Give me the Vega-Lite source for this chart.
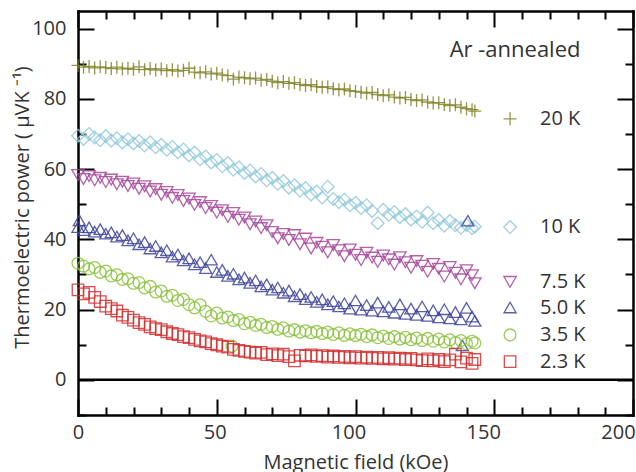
{
  "$schema": "https://vega.github.io/schema/vega-lite/v6.json",
  "width": 555,
  "height": 404,
  "autosize": "none",
  "padding": {"left": 78, "top": 11, "right": 3, "bottom": 57},
  "background": "white",
  "config": {
    "view": {"stroke": null},
    "font": "Open Sans",
    "axis": {
      "domainColor": "black", "domainWidth": 2.5, "domainCap": "square",
      "tickColor": "black", "tickWidth": 2, "grid": false,
      "labelFont": "Open Sans", "labelFontSize": 20, "labelColor": "#333333",
      "titleFont": "Open Sans", "titleFontSize": 20, "titleFontWeight": "normal", "titleColor": "#333333",
      "labelOverlap": false, "labelFlush": false, "labelBound": false
    }
  },
  "datasets": {
    "series": [
      {"T":"20 K","h":0,"v":89.5},{"T":"20 K","h":2,"v":89.0},{"T":"20 K","h":4,"v":89.2},{"T":"20 K","h":6,"v":88.8},{"T":"20 K","h":8,"v":89.1},{"T":"20 K","h":10,"v":88.9},{"T":"20 K","h":12,"v":88.6},{"T":"20 K","h":14,"v":89.0},{"T":"20 K","h":16,"v":88.5},{"T":"20 K","h":18,"v":88.7},{"T":"20 K","h":20,"v":88.4},{"T":"20 K","h":22,"v":89.1},{"T":"20 K","h":24,"v":88.3},{"T":"20 K","h":26,"v":88.6},{"T":"20 K","h":28,"v":88.2},{"T":"20 K","h":30,"v":88.5},{"T":"20 K","h":32,"v":88.0},{"T":"20 K","h":34,"v":88.3},{"T":"20 K","h":36,"v":87.9},{"T":"20 K","h":38,"v":88.1},{"T":"20 K","h":40,"v":88.7},{"T":"20 K","h":42,"v":87.6},{"T":"20 K","h":44,"v":87.4},{"T":"20 K","h":46,"v":87.7},{"T":"20 K","h":48,"v":87.1},{"T":"20 K","h":50,"v":87.3},{"T":"20 K","h":52,"v":86.8},{"T":"20 K","h":54,"v":86.6},{"T":"20 K","h":56,"v":85.6},{"T":"20 K","h":58,"v":86.2},{"T":"20 K","h":60,"v":86.0},{"T":"20 K","h":62,"v":85.7},{"T":"20 K","h":64,"v":85.9},{"T":"20 K","h":66,"v":85.3},{"T":"20 K","h":68,"v":85.5},{"T":"20 K","h":70,"v":85.0},{"T":"20 K","h":72,"v":84.6},{"T":"20 K","h":74,"v":84.9},{"T":"20 K","h":76,"v":84.4},{"T":"20 K","h":78,"v":84.6},{"T":"20 K","h":80,"v":84.1},{"T":"20 K","h":82,"v":83.8},{"T":"20 K","h":84,"v":84.0},{"T":"20 K","h":86,"v":83.5},{"T":"20 K","h":88,"v":83.3},{"T":"20 K","h":90,"v":83.4},{"T":"20 K","h":92,"v":82.9},{"T":"20 K","h":94,"v":82.6},{"T":"20 K","h":96,"v":82.8},{"T":"20 K","h":98,"v":82.3},{"T":"20 K","h":100,"v":82.1},{"T":"20 K","h":102,"v":81.9},{"T":"20 K","h":104,"v":81.6},{"T":"20 K","h":106,"v":81.8},{"T":"20 K","h":108,"v":81.2},{"T":"20 K","h":110,"v":80.9},{"T":"20 K","h":112,"v":81.1},{"T":"20 K","h":114,"v":80.5},{"T":"20 K","h":116,"v":80.2},{"T":"20 K","h":118,"v":80.4},{"T":"20 K","h":120,"v":79.8},{"T":"20 K","h":122,"v":79.5},{"T":"20 K","h":124,"v":79.7},{"T":"20 K","h":126,"v":79.1},{"T":"20 K","h":128,"v":78.8},{"T":"20 K","h":130,"v":78.9},{"T":"20 K","h":132,"v":78.4},{"T":"20 K","h":134,"v":78.1},{"T":"20 K","h":136,"v":78.3},{"T":"20 K","h":138,"v":77.6},{"T":"20 K","h":140,"v":77.2},{"T":"20 K","h":142,"v":76.9},{"T":"20 K","h":143,"v":76.5},
      {"T":"10 K","h":0,"v":69.5},{"T":"10 K","h":2,"v":68.6},{"T":"10 K","h":4,"v":70.0},{"T":"10 K","h":6,"v":69.0},{"T":"10 K","h":8,"v":68.2},{"T":"10 K","h":10,"v":69.4},{"T":"10 K","h":12,"v":68.1},{"T":"10 K","h":14,"v":68.8},{"T":"10 K","h":16,"v":67.6},{"T":"10 K","h":18,"v":68.5},{"T":"10 K","h":20,"v":67.3},{"T":"10 K","h":22,"v":68.0},{"T":"10 K","h":24,"v":66.7},{"T":"10 K","h":26,"v":67.6},{"T":"10 K","h":28,"v":66.2},{"T":"10 K","h":30,"v":66.9},{"T":"10 K","h":32,"v":65.5},{"T":"10 K","h":34,"v":66.3},{"T":"10 K","h":36,"v":64.8},{"T":"10 K","h":38,"v":65.6},{"T":"10 K","h":40,"v":63.9},{"T":"10 K","h":42,"v":64.7},{"T":"10 K","h":44,"v":62.8},{"T":"10 K","h":46,"v":63.6},{"T":"10 K","h":48,"v":61.9},{"T":"10 K","h":50,"v":62.6},{"T":"10 K","h":52,"v":60.8},{"T":"10 K","h":54,"v":61.7},{"T":"10 K","h":56,"v":59.8},{"T":"10 K","h":58,"v":60.5},{"T":"10 K","h":60,"v":58.9},{"T":"10 K","h":62,"v":59.6},{"T":"10 K","h":64,"v":57.9},{"T":"10 K","h":66,"v":58.6},{"T":"10 K","h":68,"v":56.8},{"T":"10 K","h":70,"v":57.5},{"T":"10 K","h":72,"v":55.8},{"T":"10 K","h":74,"v":56.6},{"T":"10 K","h":76,"v":54.7},{"T":"10 K","h":78,"v":55.4},{"T":"10 K","h":80,"v":53.9},{"T":"10 K","h":82,"v":54.6},{"T":"10 K","h":84,"v":52.8},{"T":"10 K","h":86,"v":53.6},{"T":"10 K","h":88,"v":51.9},{"T":"10 K","h":90,"v":55.0},{"T":"10 K","h":92,"v":51.5},{"T":"10 K","h":94,"v":50.6},{"T":"10 K","h":96,"v":51.3},{"T":"10 K","h":98,"v":49.7},{"T":"10 K","h":100,"v":50.4},{"T":"10 K","h":102,"v":48.9},{"T":"10 K","h":104,"v":49.7},{"T":"10 K","h":106,"v":48.1},{"T":"10 K","h":108,"v":44.6},{"T":"10 K","h":110,"v":48.4},{"T":"10 K","h":112,"v":47.0},{"T":"10 K","h":114,"v":47.8},{"T":"10 K","h":116,"v":46.3},{"T":"10 K","h":118,"v":47.2},{"T":"10 K","h":120,"v":45.6},{"T":"10 K","h":122,"v":46.5},{"T":"10 K","h":124,"v":45.0},{"T":"10 K","h":126,"v":47.6},{"T":"10 K","h":128,"v":44.6},{"T":"10 K","h":130,"v":45.5},{"T":"10 K","h":132,"v":43.9},{"T":"10 K","h":134,"v":45.2},{"T":"10 K","h":136,"v":44.0},{"T":"10 K","h":138,"v":43.3},{"T":"10 K","h":140,"v":44.1},{"T":"10 K","h":142,"v":43.2},{"T":"10 K","h":143,"v":43.6},
      {"T":"7.5 K","h":0,"v":58.3},{"T":"7.5 K","h":2,"v":57.2},{"T":"7.5 K","h":4,"v":58.0},{"T":"7.5 K","h":6,"v":56.8},{"T":"7.5 K","h":8,"v":57.5},{"T":"7.5 K","h":10,"v":56.3},{"T":"7.5 K","h":12,"v":57.0},{"T":"7.5 K","h":14,"v":55.7},{"T":"7.5 K","h":16,"v":56.4},{"T":"7.5 K","h":18,"v":55.2},{"T":"7.5 K","h":20,"v":55.9},{"T":"7.5 K","h":22,"v":54.4},{"T":"7.5 K","h":24,"v":55.1},{"T":"7.5 K","h":26,"v":53.6},{"T":"7.5 K","h":28,"v":54.3},{"T":"7.5 K","h":30,"v":52.7},{"T":"7.5 K","h":32,"v":53.5},{"T":"7.5 K","h":34,"v":51.8},{"T":"7.5 K","h":36,"v":52.6},{"T":"7.5 K","h":38,"v":50.9},{"T":"7.5 K","h":40,"v":51.6},{"T":"7.5 K","h":42,"v":49.8},{"T":"7.5 K","h":44,"v":50.6},{"T":"7.5 K","h":46,"v":48.9},{"T":"7.5 K","h":48,"v":49.5},{"T":"7.5 K","h":50,"v":47.6},{"T":"7.5 K","h":52,"v":48.3},{"T":"7.5 K","h":54,"v":46.4},{"T":"7.5 K","h":56,"v":47.5},{"T":"7.5 K","h":58,"v":45.6},{"T":"7.5 K","h":60,"v":46.2},{"T":"7.5 K","h":62,"v":44.3},{"T":"7.5 K","h":64,"v":45.1},{"T":"7.5 K","h":66,"v":43.2},{"T":"7.5 K","h":68,"v":44.0},{"T":"7.5 K","h":70,"v":42.1},{"T":"7.5 K","h":72,"v":40.3},{"T":"7.5 K","h":74,"v":41.5},{"T":"7.5 K","h":76,"v":39.8},{"T":"7.5 K","h":78,"v":41.2},{"T":"7.5 K","h":80,"v":38.6},{"T":"7.5 K","h":82,"v":40.2},{"T":"7.5 K","h":84,"v":37.4},{"T":"7.5 K","h":86,"v":39.0},{"T":"7.5 K","h":88,"v":37.9},{"T":"7.5 K","h":90,"v":36.3},{"T":"7.5 K","h":92,"v":38.4},{"T":"7.5 K","h":94,"v":36.9},{"T":"7.5 K","h":96,"v":35.2},{"T":"7.5 K","h":98,"v":37.1},{"T":"7.5 K","h":100,"v":35.6},{"T":"7.5 K","h":102,"v":34.1},{"T":"7.5 K","h":104,"v":36.2},{"T":"7.5 K","h":106,"v":34.8},{"T":"7.5 K","h":108,"v":33.6},{"T":"7.5 K","h":110,"v":35.4},{"T":"7.5 K","h":112,"v":34.3},{"T":"7.5 K","h":114,"v":32.8},{"T":"7.5 K","h":116,"v":34.9},{"T":"7.5 K","h":118,"v":33.5},{"T":"7.5 K","h":120,"v":31.9},{"T":"7.5 K","h":122,"v":33.8},{"T":"7.5 K","h":124,"v":32.5},{"T":"7.5 K","h":126,"v":30.8},{"T":"7.5 K","h":128,"v":33.0},{"T":"7.5 K","h":130,"v":31.6},{"T":"7.5 K","h":132,"v":29.4},{"T":"7.5 K","h":134,"v":32.1},{"T":"7.5 K","h":136,"v":30.5},{"T":"7.5 K","h":138,"v":28.6},{"T":"7.5 K","h":140,"v":31.2},{"T":"7.5 K","h":142,"v":29.8},{"T":"7.5 K","h":143,"v":27.5},
      {"T":"5.0 K","h":0,"v":43.5},{"T":"5.0 K","h":0.5,"v":45.4},{"T":"5.0 K","h":2,"v":42.6},{"T":"5.0 K","h":4,"v":43.4},{"T":"5.0 K","h":6,"v":42.2},{"T":"5.0 K","h":8,"v":42.9},{"T":"5.0 K","h":10,"v":41.6},{"T":"5.0 K","h":12,"v":42.0},{"T":"5.0 K","h":14,"v":40.8},{"T":"5.0 K","h":16,"v":41.2},{"T":"5.0 K","h":18,"v":39.7},{"T":"5.0 K","h":20,"v":40.3},{"T":"5.0 K","h":22,"v":38.6},{"T":"5.0 K","h":24,"v":39.2},{"T":"5.0 K","h":26,"v":37.4},{"T":"5.0 K","h":28,"v":38.1},{"T":"5.0 K","h":30,"v":36.3},{"T":"5.0 K","h":32,"v":36.9},{"T":"5.0 K","h":34,"v":35.1},{"T":"5.0 K","h":36,"v":35.7},{"T":"5.0 K","h":38,"v":34.0},{"T":"5.0 K","h":40,"v":34.6},{"T":"5.0 K","h":42,"v":32.9},{"T":"5.0 K","h":44,"v":33.5},{"T":"5.0 K","h":46,"v":31.8},{"T":"5.0 K","h":48,"v":34.2},{"T":"5.0 K","h":50,"v":30.7},{"T":"5.0 K","h":52,"v":31.3},{"T":"5.0 K","h":54,"v":29.6},{"T":"5.0 K","h":56,"v":30.2},{"T":"5.0 K","h":58,"v":28.6},{"T":"5.0 K","h":60,"v":29.1},{"T":"5.0 K","h":62,"v":27.6},{"T":"5.0 K","h":64,"v":28.3},{"T":"5.0 K","h":66,"v":26.6},{"T":"5.0 K","h":68,"v":27.2},{"T":"5.0 K","h":70,"v":25.7},{"T":"5.0 K","h":72,"v":26.3},{"T":"5.0 K","h":74,"v":24.8},{"T":"5.0 K","h":76,"v":25.4},{"T":"5.0 K","h":78,"v":23.8},{"T":"5.0 K","h":80,"v":24.4},{"T":"5.0 K","h":82,"v":23.0},{"T":"5.0 K","h":84,"v":23.6},{"T":"5.0 K","h":86,"v":22.2},{"T":"5.0 K","h":88,"v":22.9},{"T":"5.0 K","h":90,"v":21.5},{"T":"5.0 K","h":92,"v":22.4},{"T":"5.0 K","h":94,"v":20.9},{"T":"5.0 K","h":96,"v":21.8},{"T":"5.0 K","h":98,"v":20.3},{"T":"5.0 K","h":100,"v":22.6},{"T":"5.0 K","h":102,"v":20.0},{"T":"5.0 K","h":104,"v":21.3},{"T":"5.0 K","h":106,"v":19.7},{"T":"5.0 K","h":108,"v":22.0},{"T":"5.0 K","h":110,"v":19.5},{"T":"5.0 K","h":112,"v":20.8},{"T":"5.0 K","h":114,"v":19.1},{"T":"5.0 K","h":116,"v":21.5},{"T":"5.0 K","h":118,"v":18.8},{"T":"5.0 K","h":120,"v":20.3},{"T":"5.0 K","h":122,"v":18.5},{"T":"5.0 K","h":124,"v":20.9},{"T":"5.0 K","h":126,"v":18.2},{"T":"5.0 K","h":128,"v":19.8},{"T":"5.0 K","h":130,"v":17.8},{"T":"5.0 K","h":132,"v":20.1},{"T":"5.0 K","h":134,"v":17.5},{"T":"5.0 K","h":136,"v":19.3},{"T":"5.0 K","h":138,"v":17.2},{"T":"5.0 K","h":140,"v":20.5},{"T":"5.0 K","h":142,"v":18.0},{"T":"5.0 K","h":143,"v":16.8},{"T":"5.0 K","h":140.5,"v":45.3},{"T":"5.0 K","h":138.5,"v":9.8},
      {"T":"3.5 K","h":0,"v":33.2},{"T":"3.5 K","h":2,"v":32.4},{"T":"3.5 K","h":4,"v":31.6},{"T":"3.5 K","h":6,"v":32.0},{"T":"3.5 K","h":8,"v":30.6},{"T":"3.5 K","h":10,"v":31.0},{"T":"3.5 K","h":12,"v":29.6},{"T":"3.5 K","h":14,"v":29.9},{"T":"3.5 K","h":16,"v":28.6},{"T":"3.5 K","h":18,"v":28.8},{"T":"3.5 K","h":20,"v":27.5},{"T":"3.5 K","h":22,"v":27.7},{"T":"3.5 K","h":24,"v":26.2},{"T":"3.5 K","h":26,"v":26.6},{"T":"3.5 K","h":28,"v":25.0},{"T":"3.5 K","h":30,"v":25.3},{"T":"3.5 K","h":32,"v":23.8},{"T":"3.5 K","h":34,"v":24.1},{"T":"3.5 K","h":36,"v":22.6},{"T":"3.5 K","h":38,"v":22.9},{"T":"3.5 K","h":40,"v":21.4},{"T":"3.5 K","h":42,"v":20.5},{"T":"3.5 K","h":44,"v":21.4},{"T":"3.5 K","h":46,"v":19.5},{"T":"3.5 K","h":48,"v":18.2},{"T":"3.5 K","h":50,"v":19.0},{"T":"3.5 K","h":52,"v":17.6},{"T":"3.5 K","h":54,"v":17.9},{"T":"3.5 K","h":55.5,"v":9.6},{"T":"3.5 K","h":56,"v":16.9},{"T":"3.5 K","h":58,"v":17.2},{"T":"3.5 K","h":60,"v":16.0},{"T":"3.5 K","h":62,"v":16.4},{"T":"3.5 K","h":64,"v":15.5},{"T":"3.5 K","h":66,"v":15.8},{"T":"3.5 K","h":68,"v":14.9},{"T":"3.5 K","h":70,"v":15.2},{"T":"3.5 K","h":72,"v":14.4},{"T":"3.5 K","h":74,"v":14.8},{"T":"3.5 K","h":76,"v":13.9},{"T":"3.5 K","h":78,"v":14.3},{"T":"3.5 K","h":80,"v":13.6},{"T":"3.5 K","h":82,"v":14.0},{"T":"3.5 K","h":84,"v":13.4},{"T":"3.5 K","h":86,"v":13.8},{"T":"3.5 K","h":88,"v":13.2},{"T":"3.5 K","h":90,"v":13.6},{"T":"3.5 K","h":92,"v":12.9},{"T":"3.5 K","h":94,"v":13.4},{"T":"3.5 K","h":96,"v":12.7},{"T":"3.5 K","h":98,"v":13.1},{"T":"3.5 K","h":100,"v":12.6},{"T":"3.5 K","h":102,"v":13.0},{"T":"3.5 K","h":104,"v":12.3},{"T":"3.5 K","h":106,"v":12.8},{"T":"3.5 K","h":108,"v":12.0},{"T":"3.5 K","h":110,"v":12.5},{"T":"3.5 K","h":112,"v":11.8},{"T":"3.5 K","h":114,"v":12.3},{"T":"3.5 K","h":116,"v":11.6},{"T":"3.5 K","h":118,"v":12.1},{"T":"3.5 K","h":120,"v":11.4},{"T":"3.5 K","h":122,"v":11.9},{"T":"3.5 K","h":124,"v":11.2},{"T":"3.5 K","h":126,"v":11.8},{"T":"3.5 K","h":128,"v":11.0},{"T":"3.5 K","h":130,"v":11.6},{"T":"3.5 K","h":132,"v":10.8},{"T":"3.5 K","h":134,"v":11.4},{"T":"3.5 K","h":136,"v":10.6},{"T":"3.5 K","h":138,"v":11.2},{"T":"3.5 K","h":140,"v":10.3},{"T":"3.5 K","h":142,"v":11.0},{"T":"3.5 K","h":143,"v":10.5},
      {"T":"2.3 K","h":0,"v":25.6},{"T":"2.3 K","h":2,"v":24.5},{"T":"2.3 K","h":4,"v":24.9},{"T":"2.3 K","h":6,"v":23.5},{"T":"2.3 K","h":8,"v":22.3},{"T":"2.3 K","h":10,"v":21.0},{"T":"2.3 K","h":12,"v":20.3},{"T":"2.3 K","h":14,"v":19.6},{"T":"2.3 K","h":16,"v":18.4},{"T":"2.3 K","h":18,"v":17.8},{"T":"2.3 K","h":20,"v":17.0},{"T":"2.3 K","h":22,"v":16.3},{"T":"2.3 K","h":24,"v":15.8},{"T":"2.3 K","h":26,"v":15.1},{"T":"2.3 K","h":28,"v":14.6},{"T":"2.3 K","h":30,"v":14.3},{"T":"2.3 K","h":32,"v":13.7},{"T":"2.3 K","h":34,"v":13.2},{"T":"2.3 K","h":36,"v":12.9},{"T":"2.3 K","h":38,"v":12.3},{"T":"2.3 K","h":40,"v":12.0},{"T":"2.3 K","h":42,"v":11.5},{"T":"2.3 K","h":44,"v":11.1},{"T":"2.3 K","h":46,"v":10.8},{"T":"2.3 K","h":48,"v":10.3},{"T":"2.3 K","h":50,"v":10.0},{"T":"2.3 K","h":52,"v":9.6},{"T":"2.3 K","h":54,"v":9.3},{"T":"2.3 K","h":56,"v":8.7},{"T":"2.3 K","h":58,"v":8.4},{"T":"2.3 K","h":60,"v":8.1},{"T":"2.3 K","h":62,"v":7.9},{"T":"2.3 K","h":64,"v":7.6},{"T":"2.3 K","h":66,"v":7.8},{"T":"2.3 K","h":68,"v":7.2},{"T":"2.3 K","h":70,"v":7.4},{"T":"2.3 K","h":72,"v":6.9},{"T":"2.3 K","h":74,"v":7.3},{"T":"2.3 K","h":76,"v":6.6},{"T":"2.3 K","h":78,"v":5.4},{"T":"2.3 K","h":80,"v":7.0},{"T":"2.3 K","h":82,"v":6.8},{"T":"2.3 K","h":84,"v":7.1},{"T":"2.3 K","h":86,"v":6.7},{"T":"2.3 K","h":88,"v":6.9},{"T":"2.3 K","h":90,"v":6.5},{"T":"2.3 K","h":92,"v":6.8},{"T":"2.3 K","h":94,"v":6.4},{"T":"2.3 K","h":96,"v":6.7},{"T":"2.3 K","h":98,"v":6.3},{"T":"2.3 K","h":100,"v":6.6},{"T":"2.3 K","h":102,"v":6.2},{"T":"2.3 K","h":104,"v":6.5},{"T":"2.3 K","h":106,"v":6.1},{"T":"2.3 K","h":108,"v":6.4},{"T":"2.3 K","h":110,"v":6.0},{"T":"2.3 K","h":112,"v":6.3},{"T":"2.3 K","h":114,"v":5.9},{"T":"2.3 K","h":116,"v":6.2},{"T":"2.3 K","h":118,"v":5.8},{"T":"2.3 K","h":120,"v":6.1},{"T":"2.3 K","h":122,"v":5.7},{"T":"2.3 K","h":124,"v":5.5},{"T":"2.3 K","h":126,"v":6.0},{"T":"2.3 K","h":128,"v":5.4},{"T":"2.3 K","h":130,"v":5.8},{"T":"2.3 K","h":132,"v":5.2},{"T":"2.3 K","h":134,"v":5.7},{"T":"2.3 K","h":136,"v":7.3},{"T":"2.3 K","h":138,"v":5.1},{"T":"2.3 K","h":140,"v":6.2},{"T":"2.3 K","h":142,"v":4.7},{"T":"2.3 K","h":143,"v":5.8}
    ],
    "legend": [
      {"T":"20 K","ly":74.3},{"T":"10 K","ly":43.5},{"T":"7.5 K","ly":27.9},{"T":"5.0 K","ly":20.6},{"T":"3.5 K","ly":12.8},{"T":"2.3 K","ly":5.2}
    ],
    "note": [{"label": "Ar -annealed"}]
  },
  "layer": [
    {
      "data": {"name": "note"},
      "mark": {"type": "rule", "color": "black", "strokeWidth": 2.5},
      "encoding": {"y": {"datum": 0, "type": "quantitative", "axis": null}}
    },
    {
      "data": {"name": "series"},
      "mark": {"type": "point", "filled": false, "strokeWidth": 1.3, "opacity": 0.85},
      "encoding": {
        "x": {
          "field": "h", "type": "quantitative",
          "scale": {"domain": [0, 200], "nice": false, "zero": false},
          "axis": {
            "orient": "bottom",
            "values": [0,10,20,30,40,50,60,70,80,90,100,110,120,130,140,150,160,170,180,190,200],
            "labelExpr": "datum.value % 50 === 0 ? datum.label : ''",
            "tickSize": {"condition": {"test": "datum.value % 50 === 0", "value": -16}, "value": -8},
            "labelPadding": 23,
            "labelOffset": {"condition": [
              {"test": "datum.value === 50", "value": -2},
              {"test": "datum.value === 100", "value": -7},
              {"test": "datum.value === 150", "value": -11},
              {"test": "datum.value === 200", "value": -15}
            ], "value": 0},
            "title": "Magnetic field (kOe)",
            "titleY": 53,
            "titleBaseline": "alphabetic"
          }
        },
        "y": {
          "field": "v", "type": "quantitative",
          "scale": {"domain": [-10, 105], "nice": false, "zero": false},
          "axis": {
            "orient": "left",
            "values": [-10,0,10,20,30,40,50,60,70,80,90,100],
            "labelExpr": "datum.value % 20 === 0 ? datum.label : ''",
            "tickSize": {"condition": {"test": "datum.value % 20 === 0", "value": -16}, "value": -8},
            "labelPadding": 28,
            "title": "Thermoelectric power (     μVK ⁻¹)",
            "titleX": -50,
            "titleY": 196,
            "titleAngle": -90,
            "titleAlign": "center",
            "titleBaseline": "alphabetic"
          }
        },
        "color": {
          "field": "T", "type": "nominal", "legend": null,
          "scale": {"domain": ["20 K","10 K","7.5 K","5.0 K","3.5 K","2.3 K"], "range": ["#84842c","#92cadb","#a6479b","#3f449b","#8cc33e","#d22e2e"]}
        },
        "shape": {
          "field": "T", "type": "nominal", "legend": null,
          "scale": {"domain": ["20 K","10 K","7.5 K","5.0 K","3.5 K","2.3 K"], "range": ["M-1,0L1,0M0,-1L0,1","diamond","triangle-down","triangle-up","circle","square"]}
        },
        "size": {
          "field": "T", "type": "ordinal", "legend": null,
          "scale": {"domain": ["20 K","10 K","7.5 K","5.0 K","3.5 K","2.3 K"], "range": [169,132,144,144,90,100]}
        }
      }
    },
    {
      "data": {"name": "legend"},
      "mark": {"type": "point", "filled": false, "strokeWidth": 1.3, "opacity": 0.85},
      "encoding": {
        "x": {
          "datum": 155.7, "type": "quantitative",
          "axis": {
            "orient": "top",
            "values": [0,10,20,30,40,50,60,70,80,90,100,110,120,130,140,150,160,170,180,190,200],
            "labels": false, "title": null,
            "tickSize": {"condition": {"test": "datum.value % 50 === 0", "value": -16}, "value": -8}
          }
        },
        "y": {
          "field": "ly", "type": "quantitative",
          "axis": {
            "orient": "right",
            "values": [-10,0,10,20,30,40,50,60,70,80,90,100],
            "labels": false, "title": null,
            "tickSize": {"condition": {"test": "datum.value % 20 === 0", "value": -16}, "value": -8}
          }
        },
        "color": {"field": "T", "type": "nominal", "legend": null},
        "shape": {"field": "T", "type": "nominal", "legend": null},
        "size": {"field": "T", "type": "ordinal", "legend": null}
      }
    },
    {
      "data": {"name": "legend"},
      "mark": {"type": "text", "align": "left", "baseline": "middle", "fontSize": 20, "font": "Open Sans", "color": "#333333"},
      "encoding": {
        "x": {"datum": 166.5, "type": "quantitative", "axis": null},
        "y": {"field": "ly", "type": "quantitative", "axis": null},
        "text": {"field": "T"}
      }
    },
    {
      "data": {"name": "note"},
      "mark": {"type": "text", "align": "center", "baseline": "alphabetic", "fontSize": 22, "font": "Open Sans", "color": "#333333"},
      "encoding": {
        "x": {"datum": 157.5, "type": "quantitative", "axis": null},
        "y": {"datum": 91.8, "type": "quantitative", "axis": null},
        "text": {"field": "label"}
      }
    }
  ],
  "resolve": {"axis": {"x": "independent", "y": "independent"}}
}
